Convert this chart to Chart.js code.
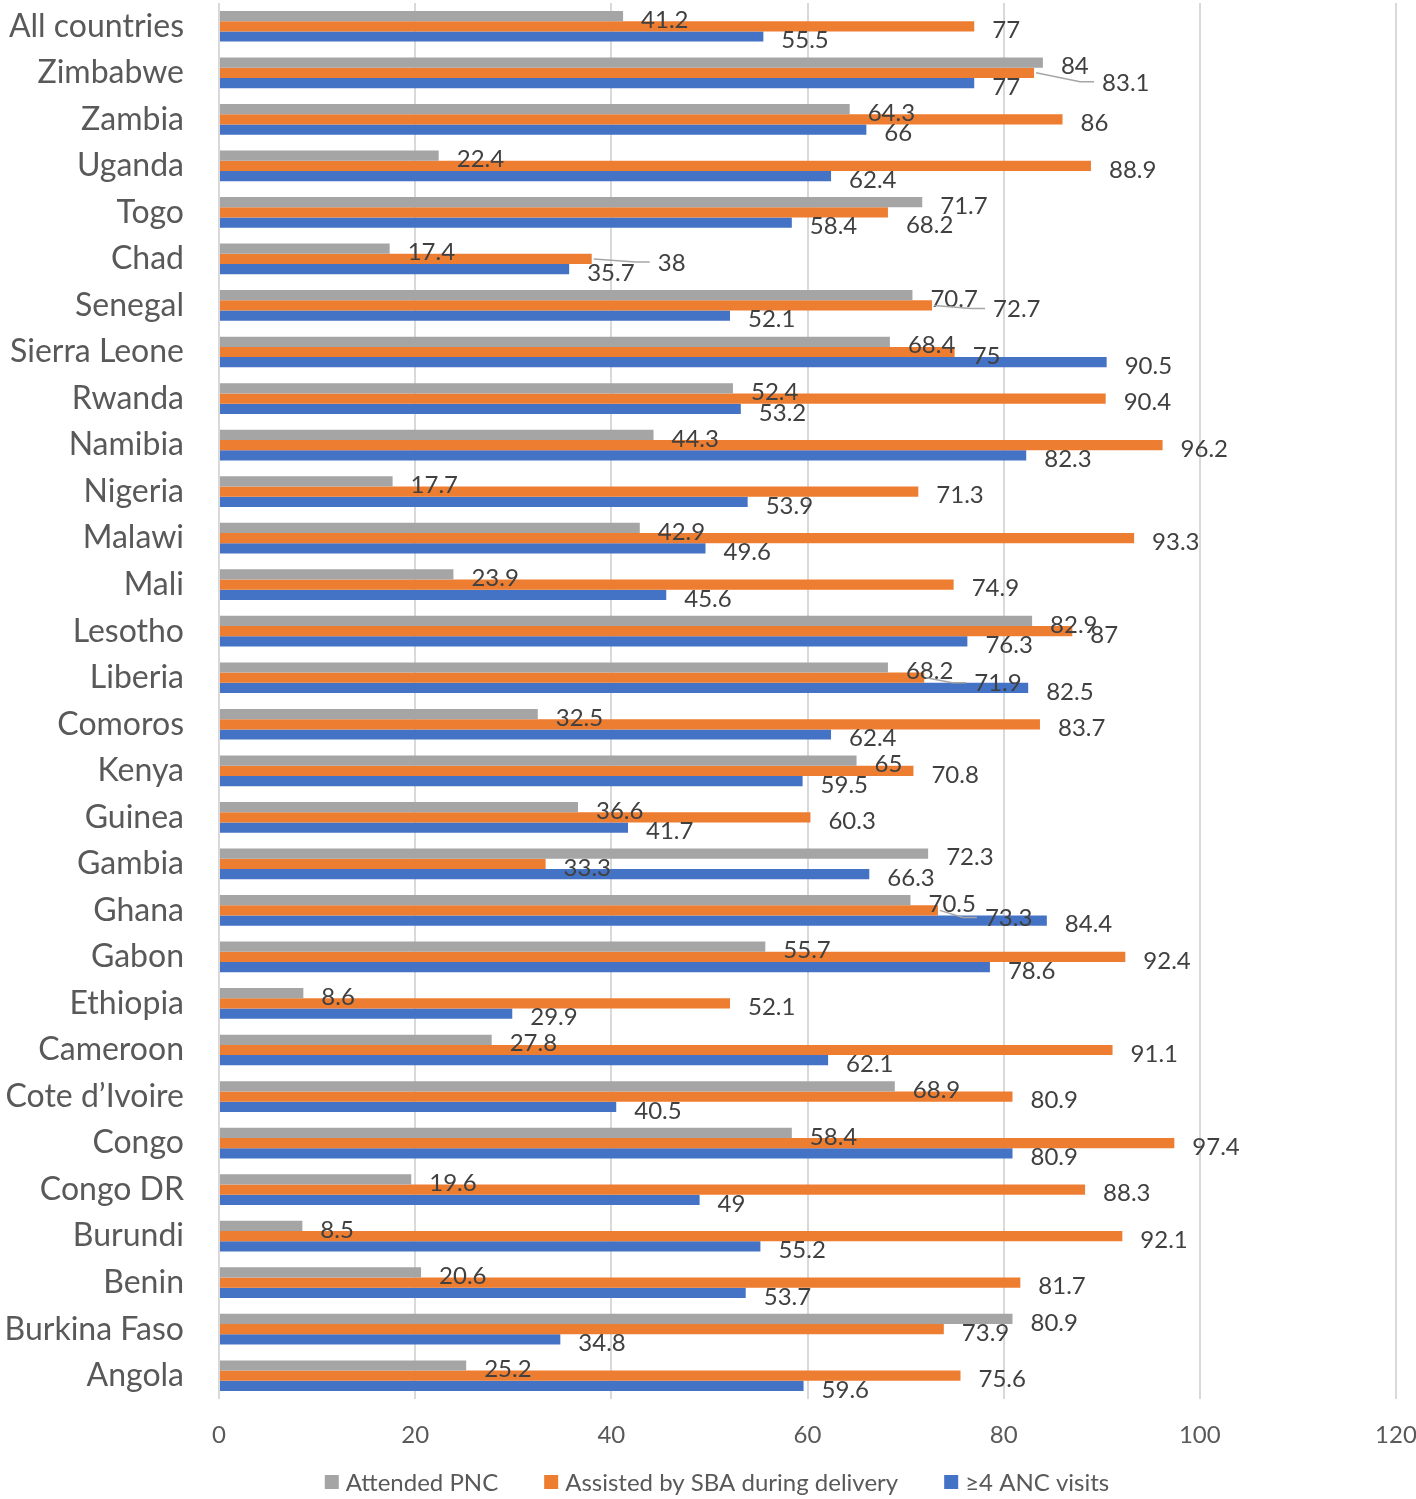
<!DOCTYPE html>
<html>
<head>
<meta charset="utf-8">
<script src="https://cdn.jsdelivr.net/npm/chart.js@4.4.1/dist/chart.umd.min.js"></script>
<style>
  html, body { margin: 0; padding: 0; background: #fff; }
  #wrap { width: 1416px; height: 1499px; }
</style>
</head>
<body>
<div id="wrap"><canvas id="chart"></canvas></div>
<script>
// countries, top to bottom as in the figure
const countries = [
  'All countries', 'Zimbabwe', 'Zambia', 'Uganda', 'Togo', 'Chad', 'Senegal',
  'Sierra Leone', 'Rwanda', 'Namibia', 'Nigeria', 'Malawi', 'Mali', 'Lesotho',
  'Liberia', 'Comoros', 'Kenya', 'Guinea', 'Gambia', 'Ghana', 'Gabon',
  'Ethiopia', 'Cameroon', 'Cote d\u2019Ivoire', 'Congo', 'Congo DR', 'Burundi',
  'Benin', 'Burkina Faso', 'Angola'
];

const attendedPNC = [
  41.2, 84, 64.3, 22.4, 71.7, 17.4, 70.7, 68.4, 52.4, 44.3, 17.7, 42.9, 23.9, 82.9,
  68.2, 32.5, 65, 36.6, 72.3, 70.5, 55.7, 8.6, 27.8, 68.9, 58.4, 19.6, 8.5, 20.6, 80.9, 25.2
];

const assistedSBA = [
  77, 83.1, 86, 88.9, 68.2, 38, 72.7, 75, 90.4, 96.2, 71.3, 93.3, 74.9, 87,
  71.9, 83.7, 70.8, 60.3, 33.3, 73.3, 92.4, 52.1, 91.1, 80.9, 97.4, 88.3, 92.1, 81.7, 73.9, 75.6
];

const ancVisits = [
  55.5, 77, 66, 62.4, 58.4, 35.7, 52.1, 90.5, 53.2, 82.3, 53.9, 49.6, 45.6, 76.3,
  82.5, 62.4, 59.5, 41.7, 66.3, 84.4, 78.6, 29.9, 62.1, 40.5, 80.9, 49, 55.2, 53.7, 34.8, 59.6
];

const xTicks = [0, 20, 40, 60, 80, 100, 120];

// labels that were dragged aside in the original (dataset index -> row -> [dx, dy])
const labelNudge = {
  1: { 1: [50, 6], 4: [0, 9], 5: [48, 0], 6: [43, 0], 14: [32, 2], 19: [29, 4] }
};

const FONT = 'Lato';

const valueLabels = {
  id: 'valueLabels',
  afterDatasetsDraw(chart) {
    const ctx = chart.ctx;
    ctx.save();
    ctx.font = `24px ${FONT}`;
    ctx.textAlign = 'left';
    ctx.textBaseline = 'middle';
    chart.data.datasets.forEach((ds, di) => {
      const meta = chart.getDatasetMeta(di);
      meta.data.forEach((bar, i) => {
        const nudge = (labelNudge[di] && labelNudge[di][i]) || [0, 0];
        const tx = bar.x + 18 + nudge[0];
        const ty = bar.y + 4 + nudge[1];
        if (nudge[0] > 0) {
          ctx.strokeStyle = '#a6a6a6';
          ctx.lineWidth = 1.5;
          ctx.beginPath();
          ctx.moveTo(bar.x + 2, bar.y);
          ctx.lineTo(tx - 22, ty - 1);
          ctx.lineTo(tx - 8, ty - 1);
          ctx.stroke();
        }
        ctx.fillStyle = '#404040';
        ctx.fillText(String(ds.data[i]), tx, ty);
      });
    });
    ctx.restore();
  }
};

// legend drawn by hand so it sits where the original has it
const bottomLegend = {
  id: 'bottomLegend',
  afterDraw(chart) {
    const ctx = chart.ctx;
    const y = 1482;
    const box = 14, gap = 7, spacing = 46;
    ctx.save();
    ctx.font = `24px ${FONT}`;
    ctx.textBaseline = 'middle';
    ctx.textAlign = 'left';
    const items = chart.data.datasets.map(ds => ({
      text: ds.label, color: ds.backgroundColor, w: ctx.measureText(ds.label).width
    }));
    const total = items.reduce((s, it) => s + box + gap + it.w, 0) + spacing * (items.length - 1);
    let x = chart.width / 2 + 9 - total / 2;
    items.forEach(it => {
      ctx.fillStyle = it.color;
      ctx.fillRect(x, y - box / 2, box, box);
      ctx.fillStyle = '#595959';
      ctx.fillText(it.text, x + box + gap, y + 1);
      x += box + gap + it.w + spacing;
    });
    ctx.restore();
  }
};

new Chart(document.getElementById('chart'), {
  type: 'bar',
  data: {
    labels: countries,
    datasets: [
      { label: 'Attended PNC', data: attendedPNC, backgroundColor: '#a5a5a5' },
      { label: 'Assisted by SBA during delivery', data: assistedSBA, backgroundColor: '#ed7d31' },
      { label: '\u22654 ANC visits', data: ancVisits, backgroundColor: '#4472c4' }
    ]
  },
  options: {
    indexAxis: 'y',
    responsive: true,
    maintainAspectRatio: false,
    animation: false,
    datasets: {
      bar: { barPercentage: 1, categoryPercentage: 0.66, borderWidth: 0 }
    },
    layout: { padding: { top: 3, right: 20, bottom: 40, left: 0 } },
    scales: {
      x: {
        min: 0,
        max: 120,
        afterBuildTicks: scale => { scale.ticks = xTicks.map(v => ({ value: v })); },
        afterFit: scale => {
          scale.height = 60;
          scale.paddingLeft = 0;
          scale.paddingRight = 0;
        },
        grid: { color: '#d9d9d9', lineWidth: 2, drawTicks: false },
        border: { display: false },
        ticks: { padding: 22, color: '#595959', font: { family: FONT, size: 24 } }
      },
      y: {
        afterFit: scale => {
          scale.width = 219;
          scale.paddingTop = 0;
          scale.paddingBottom = 0;
        },
        grid: { display: false, drawTicks: false },
        border: { display: false },
        ticks: { padding: 35, color: '#595959', font: { family: FONT, size: 32 }, autoSkip: false }
      }
    },
    plugins: {
      legend: { display: false },
      tooltip: { enabled: false }
    }
  },
  plugins: [valueLabels, bottomLegend]
});
</script>
</body>
</html>
